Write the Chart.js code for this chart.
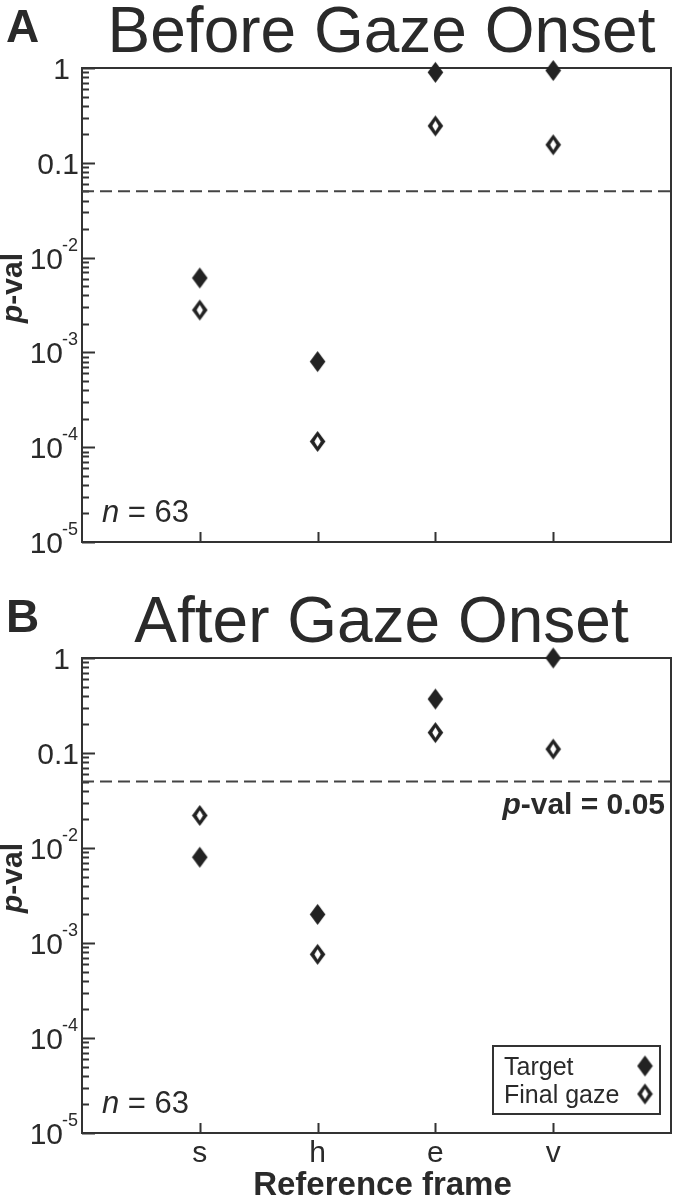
<!DOCTYPE html>
<html>
<head>
<meta charset="utf-8">
<script src="https://cdn.jsdelivr.net/npm/chart.js@4.4.0/dist/chart.umd.min.js"></script>
<style>
  html, body { margin: 0; padding: 0; background: #fff; }
  #wrapA { position: absolute; left: 0; top: 0; width: 684px; height: 590px; }
  #wrapB { position: absolute; left: 0; top: 590px; width: 684px; height: 609px; }
</style>
</head>
<body>
<div id="wrapA"><canvas id="chartA" width="684" height="590"></canvas></div>
<div id="wrapB"><canvas id="chartB" width="684" height="609"></canvas></div>
<script>
// reference frames on the x axis
const frames = ['s', 'h', 'e', 'v'];

// p-values
const beforeTarget = [0.0061, 0.0008, 0.90, 0.94];
const beforeGaze = [0.0028, 0.000115, 0.245, 0.155];
const afterTarget = [0.0080, 0.0020, 0.37, 1.0];
const afterGaze = [0.022, 0.00076, 0.164, 0.11];

const threshold = 0.05;
const nCells = 63;

const yTickValues = [1, 0.1, 0.01, 0.001, 0.0001, 0.00001];
const yTickLabels = ['1', '0.1', '10^-2', '10^-3', '10^-4', '10^-5'];

const FONT = '"Liberation Sans", Arial, Helvetica, sans-serif';
const INK = '#2a2a2a';

// diamond markers as small canvases
const makeDiamond = (open) => {
  const c = document.createElement('canvas');
  c.width = 17; c.height = 23;
  const g = c.getContext('2d');
  const cx = 8.5, cy = 11.5;
  const diamond = (hw, hh) => {
    g.beginPath();
    g.moveTo(cx, cy - hh); g.lineTo(cx + hw, cy);
    g.lineTo(cx, cy + hh); g.lineTo(cx - hw, cy);
    g.closePath();
  };
  g.fillStyle = '#222';
  diamond(7.8, 10.5); g.fill();
  if (open) {
    g.fillStyle = '#fff';
    diamond(3.2, 5.2); g.fill();
  }
  return c;
};
const filledDiamond = makeDiamond(false);
const openDiamond = makeDiamond(true);

const toPoints = (vals) => vals.map((v, i) => ({ x: i + 1, y: v }));

const drawYLabel = (ctx, label, rightX, y) => {
  ctx.fillStyle = INK;
  ctx.textBaseline = 'alphabetic';
  if (label.includes('^')) {
    const [base, exp] = label.split('^');
    ctx.font = '30px ' + FONT;
    const bw = ctx.measureText(base).width;
    ctx.font = '18px ' + FONT;
    const ew = ctx.measureText(exp).width;
    ctx.textAlign = 'left';
    ctx.fillText(exp, rightX - ew, y - 7);
    ctx.font = '30px ' + FONT;
    ctx.fillText(base, rightX - ew - bw + 1, y + 11);
  } else {
    ctx.font = '30px ' + FONT;
    ctx.textAlign = 'right';
    ctx.fillText(label, label === '1' ? rightX - 8 : rightX + 1, y + 11);
  }
};

// draws "p" in italic followed by the rest
const drawMixed = (ctx, size, bold, rest, x, y, align) => {
  const w = bold ? 'bold ' : '';
  ctx.font = 'italic ' + w + size + 'px ' + FONT;
  const pw = ctx.measureText('p').width;
  ctx.font = w + size + 'px ' + FONT;
  const rw = ctx.measureText(rest).width;
  let start = x;
  if (align === 'right') start = x - pw - rw;
  if (align === 'center') start = x - (pw + rw) / 2;
  ctx.textAlign = 'left';
  ctx.font = 'italic ' + w + size + 'px ' + FONT;
  ctx.fillText('p', start, y);
  ctx.font = w + size + 'px ' + FONT;
  ctx.fillText(rest, start + pw, y);
};

const panelDecor = {
  id: 'panelDecor',
  beforeDatasetsDraw(chart) {
    const { ctx, chartArea: a, scales: { x, y } } = chart;
    ctx.save();
    ctx.strokeStyle = '#333';
    ctx.lineWidth = 2;
    ctx.strokeRect(a.left, a.top, a.right - a.left, a.bottom - a.top);
    // log ticks on the left, pointing inward
    ctx.beginPath();
    for (let e = -5; e <= 0; e++) {
      for (let m = 1; m <= 9; m++) {
        const v = m * Math.pow(10, e);
        if (v > 1.0000001) break;
        const py = Math.round(y.getPixelForValue(v)) + 0.5;
        const len = m === 1 ? 13 : 7;
        ctx.moveTo(a.left, py);
        ctx.lineTo(a.left + len, py);
      }
    }
    // category ticks along the bottom
    frames.forEach((f, i) => {
      const px = Math.round(x.getPixelForValue(i + 1)) + 0.5;
      ctx.moveTo(px, a.bottom);
      ctx.lineTo(px, a.bottom - 10);
    });
    ctx.stroke();
    ctx.restore();
  },
  afterDraw(chart, args, opts) {
    const { ctx, chartArea: a, scales: { x, y } } = chart;
    ctx.save();
    ctx.fillStyle = INK;
    ctx.textBaseline = 'alphabetic';

    // panel letter and title
    ctx.font = 'bold 46px ' + FONT;
    ctx.textAlign = 'left';
    ctx.fillText(opts.letter, 6, 42);
    ctx.font = '64px ' + FONT;
    ctx.textAlign = 'center';
    ctx.fillText(opts.title, (a.left + a.right) / 2 + 5, 52);

    // y tick labels
    yTickValues.forEach((v, i) => {
      drawYLabel(ctx, yTickLabels[i], a.left - 4, y.getPixelForValue(v));
    });

    // y axis title
    ctx.save();
    ctx.translate(22, a.top + 220);
    ctx.rotate(-Math.PI / 2);
    drawMixed(ctx, 30, true, '-val', 0, 0, 'center');
    ctx.restore();

    // n label
    ctx.font = 'italic 31px ' + FONT;
    ctx.textAlign = 'left';
    const nw = ctx.measureText('n').width;
    ctx.fillText('n', a.left + 20, a.bottom - 20);
    ctx.font = '31px ' + FONT;
    ctx.fillText(' = ' + nCells, a.left + 20 + nw, a.bottom - 20);

    if (opts.xLabels) {
      ctx.font = '30px ' + FONT;
      ctx.textAlign = 'center';
      frames.forEach((f, i) => {
        ctx.fillText(f, x.getPixelForValue(i + 1), a.bottom + 29);
      });
      ctx.font = 'bold 33px ' + FONT;
      ctx.fillText('Reference frame', (a.left + a.right) / 2 + 6, a.bottom + 62);
    }

    if (opts.thresholdLabel) {
      drawMixed(ctx, 30, true, '-val = ' + threshold, a.right - 6, y.getPixelForValue(threshold) + 32, 'right');
    }

    if (opts.legend) {
      const bw = 167, bh = 68;
      const bx = a.right - 11 - bw, by = a.bottom - 19 - bh;
      ctx.fillStyle = '#fff';
      ctx.fillRect(bx, by, bw, bh);
      ctx.strokeStyle = '#333';
      ctx.lineWidth = 2;
      ctx.strokeRect(bx, by, bw, bh);
      ctx.fillStyle = INK;
      ctx.font = '25px ' + FONT;
      ctx.textAlign = 'left';
      const names = chart.data.datasets.filter(d => d.type !== 'line');
      names.forEach((d, i) => {
        const ty = by + 29 + i * 28;
        ctx.fillText(d.label, bx + 11, ty);
        const img = d.pointStyle;
        ctx.drawImage(img, bx + bw - 15 - img.width / 2, ty - 9 - img.height / 2);
      });
    }
    ctx.restore();
  }
};

const buildChart = (id, target, gaze, opts, bottomPad) => {
  return new Chart(document.getElementById(id), {
    type: 'scatter',
    data: {
      datasets: [
        {
          label: 'Target',
          data: toPoints(target),
          pointStyle: filledDiamond,
          pointRadius: 10,
          clip: false
        },
        {
          label: 'Final gaze',
          data: toPoints(gaze),
          pointStyle: openDiamond,
          pointRadius: 10,
          clip: false
        },
        {
          type: 'line',
          label: 'p-val = 0.05',
          data: [{ x: 0, y: threshold }, { x: frames.length + 1, y: threshold }],
          borderColor: '#444',
          borderWidth: 2,
          borderDash: [12, 6],
          pointRadius: 0,
          fill: false
        }
      ]
    },
    options: {
      responsive: false,
      animation: false,
      devicePixelRatio: 1,
      layout: { padding: { left: 82, top: 68, right: 13, bottom: bottomPad } },
      scales: {
        x: { type: 'linear', min: 0, max: frames.length + 1, display: false },
        y: { type: 'logarithmic', min: 1e-5, max: 1, display: false }
      },
      plugins: {
        legend: { display: false },
        tooltip: { enabled: false },
        panelDecor: opts
      }
    },
    plugins: [panelDecor]
  });
};

buildChart('chartA', beforeTarget, beforeGaze,
  { letter: 'A', title: 'Before Gaze Onset', xLabels: false, thresholdLabel: false, legend: false }, 48);
buildChart('chartB', afterTarget, afterGaze,
  { letter: 'B', title: 'After Gaze Onset', xLabels: true, thresholdLabel: true, legend: true }, 66);
</script>
</body>
</html>
